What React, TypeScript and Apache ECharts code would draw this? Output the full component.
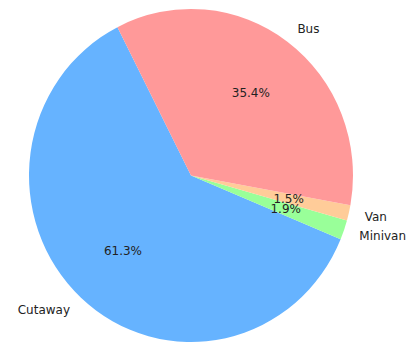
import React, { useEffect, useRef } from "react";
import * as echarts from "echarts";

const categories = ["Cutaway", "Minivan", "Van", "Bus"];
const shares = [61.3, 1.9, 1.5, 35.4];
const colors = ["#66b3ff", "#99ff99", "#ffcc99", "#ff9999"];

// The reference pie is slightly elliptical (taller than wide)
const SCALE_Y = 166.5 / 162;
const W = 410;
const H = 344;
const CX = 191;
const CY = 175.5 / SCALE_Y;
const R = 162;

export default function App() {
  const ref = useRef<HTMLDivElement>(null);
  useEffect(() => {
    document.body.style.margin = "0";
    const chart = echarts.init(ref.current!, undefined, { renderer: "svg" });
    const font = { fontFamily: "DejaVu Sans", fontSize: 12, color: "#222" };
    const pctSeries = (only: string | null, except: string | null) => ({
      type: "pie",
      center: [CX, CY],
      radius: [0, R * 1.2],
      startAngle: 117,
      clockwise: false,
      avoidLabelOverlap: false,
      silent: true,
      labelLayout: { hideOverlap: false },
      data: categories.map((name, i) => ({
        name,
        value: shares[i],
        itemStyle: { color: "rgba(0,0,0,0)" },
        label: {
          show: only ? name === only : name !== except,
        },
      })),
      label: {
        show: true,
        position: "inside",
        formatter: (p: any) => p.value.toFixed(1) + "%",
        ...font,
      },
      labelLine: { show: false },
      emphasis: { disabled: true },
    });
    chart.setOption({
      animation: false,
      backgroundColor: "#ffffff",
      series: [
        {
          type: "pie",
          center: [CX, CY],
          radius: [0, R],
          startAngle: 117,
          clockwise: false,
          avoidLabelOverlap: false,
          silent: true,
          labelLayout: { hideOverlap: false },
          data: categories.map((name, i) => ({
            name,
            value: shares[i],
            itemStyle: { color: colors[i] },
          })),
          label: {
            show: true,
            position: "outside",
            formatter: "{b}",
            distanceToLabelLine: 0,
            ...font,
          },
          labelLine: { show: false, length: R * 0.1, length2: 0 },
          emphasis: { disabled: true },
        },
        pctSeries(null, "Van"),
        pctSeries("Van", null),
      ],
    });
    return () => chart.dispose();
  }, []);
  return (
    <div style={{ width: W, height: H, overflow: "hidden" }}>
      <div
        ref={ref}
        style={{
          width: W,
          height: H / SCALE_Y,
          transform: `scaleY(${SCALE_Y})`,
          transformOrigin: "0 0",
        }}
      />
    </div>
  );
}
